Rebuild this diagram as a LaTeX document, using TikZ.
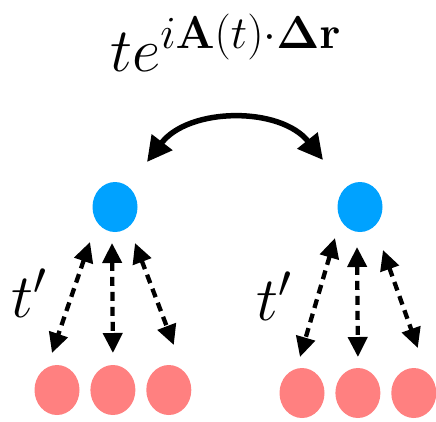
\RequirePackage{fix-cm}
\documentclass[tikz,border=0pt]{standalone}
\usetikzlibrary{arrows.meta,positioning,calc,shapes.geometric}
\definecolor{siteblue}{RGB}{0,162,255}
\definecolor{sitepink}{RGB}{255,128,128}
\DeclareMathSizes{62}{62}{46}{34}
\begin{document}
\begin{tikzpicture}[
    x=1pt, y=-1pt,
    every node/.append style={font=\fontsize{62}{64}\selectfont},  % large math labels
    label text/.style={inner sep=0pt, anchor=base west},
    sitetop/.style={ellipse, fill=siteblue, minimum width=45pt, minimum height=50pt, inner sep=0pt},
    sitebot/.style={ellipse, fill=sitepink, minimum width=45pt, minimum height=50pt, inner sep=0pt},
    hop/.style={line width=4.3pt, dash pattern=on 9pt off 6pt, {Triangle[length=20pt,width=19pt]}-{Triangle[length=20pt,width=19pt]}},
    exchange/.style={line width=5.5pt, {Triangle[length=25pt,width=25pt]}-{Triangle[length=25pt,width=25pt]}},
]
\useasboundingbox (0,0) rectangle (436,421);

\node[sitetop] (bl) at (115,207) {};
\node[sitetop] (br) at (360,207) {};
\node[sitebot] (pl1) at (57,390) {};
\node[sitebot, right=10.5pt of pl1] (pl2) {};
\node[sitebot, right=10.5pt of pl2] (pl3) {};
\node[sitebot] (pr1) at (302,393) {};
\node[sitebot, right=10.5pt of pr1] (pr2) {};
\node[sitebot, right=10.5pt of pr2] (pr3) {};

\node[label text] (phase) at (110,71) {$te^{i\mathbf{A}(t)\cdot\mathbf{\Delta}\mathbf{r}}$};
\draw[exchange] ($(bl)+(32,-45)$) to[bend left=52] ($(br)+(-37,-47)$);

\draw[hop] ($(bl)+(-25,35)$) -- ($(pl1)+(-5,-37)$);
\draw[hop] ($(bl)+(-3,36)$) -- ($(pl2)+(0,-37)$);
\draw[hop] ($(bl)+(20,36)$) -- ($(pl3)+(5,-45)$);
\node[label text] (tl) at ($(bl)+(-104,110)$) {$t'$};

\draw[hop] ($(br)+(-25,31)$) -- ($(pr1)+(-2,-36)$);
\draw[hop] ($(br)+(-3,40)$) -- ($(pr2)+(0,-36)$);
\draw[hop] ($(br)+(23,43)$) -- ($(pr3)+(4,-45)$);
\node[label text] (tr) at ($(br)+(-104,113)$) {$t'$};

\end{tikzpicture}
\end{document}
